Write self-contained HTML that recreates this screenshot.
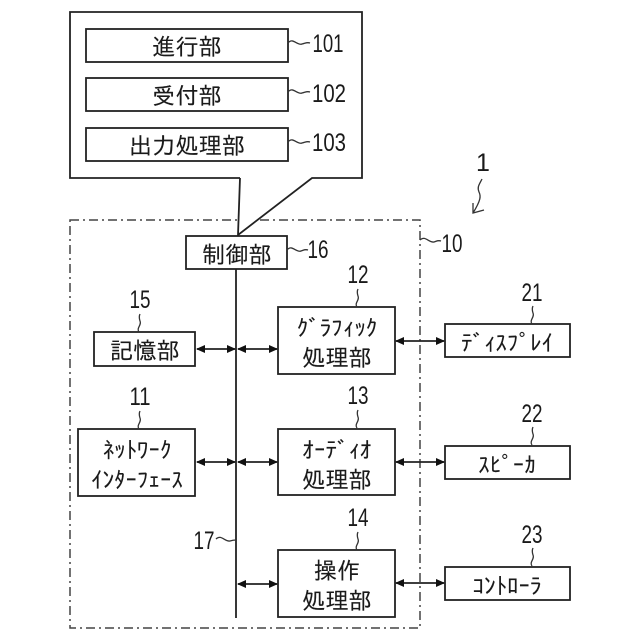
<!DOCTYPE html>
<html><head><meta charset="utf-8"><style>
html,body{margin:0;padding:0;background:#fff}
svg{display:block}
text{fill:#1a1a1a;text-anchor:middle;font-family:"IPAGothic","Noto Sans CJK JP","Liberation Sans",sans-serif;font-size:23.3px;stroke:#1a1a1a;stroke-width:.12}
text.n{font-family:"Liberation Sans",sans-serif;font-size:25px;stroke-width:0}
text.k{font-size:23px;stroke-width:.05}
.b{fill:#fff;stroke:#222;stroke-width:1.8}
.l{fill:none;stroke:#222;stroke-width:1.8}
.s{fill:none;stroke:#333;stroke-width:1.3}
</style></head><body>
<svg width="640" height="640" viewBox="0 0 640 640" xmlns="http://www.w3.org/2000/svg">
<defs>
<marker id="a" markerWidth="10" markerHeight="10" refX="8" refY="4" orient="auto-start-reverse" markerUnits="userSpaceOnUse"><path d="M0 0L9 4L0 8Z" fill="#111"/></marker>
</defs>
<rect width="640" height="640" fill="#fff"/>

<rect x="70" y="220" width="350" height="408" fill="none" stroke="#444" stroke-width="1.5" stroke-dasharray="9 4 2 4"/>

<path d="M240 178L70 178L70 12L362 12L362 178L312 178L238 235L240 178" fill="#fff" stroke="none"/>
<path class="l" d="M240 178H70V12H362V178H312L238 235L240 178"/>

<rect class="b" x="86" y="29" width="202" height="33"/>
<rect class="b" x="86" y="78" width="202" height="33"/>
<rect class="b" x="86" y="128" width="202" height="33"/>
<text x="187" y="55">進行部</text>
<text x="187" y="104">受付部</text>
<text x="187" y="154">出力処理部</text>
<path class="s" d="M288 43c5-6 9 3 14 1c4-1 5-2 8-1"/>
<path class="s" d="M288 92c5-6 9 3 14 1c4-1 5-2 8-1"/>
<path class="s" d="M288 142c5-6 9 3 14 1c4-1 5-2 8-1"/>
<text class="n" x="328" y="52" textLength="31" lengthAdjust="spacingAndGlyphs">101</text>
<text class="n" x="329" y="102" textLength="34" lengthAdjust="spacingAndGlyphs">102</text>
<text class="n" x="329" y="151" textLength="34" lengthAdjust="spacingAndGlyphs">103</text>

<rect class="b" x="186" y="236" width="101" height="33"/>
<text x="237" y="263">制御部</text>
<path class="s" d="M287 250c5-6 9 3 14 1c3-1 4-2 7-1"/>
<text class="n" x="318" y="258" textLength="21" lengthAdjust="spacingAndGlyphs">16</text>

<line class="l" x1="236" y1="269" x2="236" y2="618"/>

<rect class="b" x="94" y="332" width="101" height="34"/>
<text x="145" y="359">記憶部</text>
<rect class="b" x="78" y="429" width="117" height="67"/>
<text class="k" x="137" y="458">ﾈｯﾄﾜｰｸ</text>
<text class="k" x="137" y="488">ｲﾝﾀｰﾌｪｰｽ</text>

<rect class="b" x="278" y="307" width="117" height="67"/>
<text class="k" x="337" y="336">ｸﾞﾗﾌｨｯｸ</text>
<text x="337" y="366">処理部</text>
<rect class="b" x="278" y="429" width="117" height="66"/>
<text class="k" x="337" y="458">ｵｰﾃﾞｨｵ</text>
<text x="337" y="488">処理部</text>
<rect class="b" x="278" y="550" width="117" height="67"/>
<text x="337" y="579">操作</text>
<text x="337" y="609">処理部</text>

<rect class="b" x="445" y="324" width="125" height="33"/>
<text class="k" x="507" y="351">ﾃﾞｨｽﾌﾟﾚｲ</text>
<rect class="b" x="445" y="446" width="125" height="33"/>
<text class="k" x="507" y="473">ｽﾋﾟｰｶ</text>
<rect class="b" x="445" y="567" width="125" height="33"/>
<text class="k" x="507" y="594">ｺﾝﾄﾛｰﾗ</text>

<g class="l">
<line x1="197" y1="349" x2="235" y2="349" marker-start="url(#a)" marker-end="url(#a)"/>
<line x1="238" y1="349" x2="277" y2="349" marker-start="url(#a)" marker-end="url(#a)"/>
<line x1="197" y1="462" x2="235" y2="462" marker-start="url(#a)" marker-end="url(#a)"/>
<line x1="238" y1="462" x2="277" y2="462" marker-start="url(#a)" marker-end="url(#a)"/>
<line x1="238" y1="584" x2="277" y2="584" marker-start="url(#a)" marker-end="url(#a)"/>
<line x1="396" y1="341" x2="444" y2="341" marker-start="url(#a)" marker-end="url(#a)"/>
<line x1="396" y1="462" x2="444" y2="462" marker-start="url(#a)" marker-end="url(#a)"/>
<line x1="396" y1="583" x2="444" y2="583" marker-start="url(#a)" marker-end="url(#a)"/>
</g>

<text class="n" x="140" y="308" textLength="21" lengthAdjust="spacingAndGlyphs">15</text>
<path class="s" d="M139 332c-3-4 3-7 1-11c-1-3-1-5 0-7"/>
<text class="n" x="140" y="405" textLength="21" lengthAdjust="spacingAndGlyphs">11</text>
<path class="s" d="M139 429c-3-4 3-7 1-11c-1-3-1-5 0-7"/>
<text class="n" x="358" y="283" textLength="21" lengthAdjust="spacingAndGlyphs">12</text>
<path class="s" d="M357 307c-3-4 3-7 1-11c-1-3-1-5 0-7"/>
<text class="n" x="358" y="404" textLength="21" lengthAdjust="spacingAndGlyphs">13</text>
<path class="s" d="M357 428c-3-4 3-7 1-11c-1-3-1-5 0-7"/>
<text class="n" x="358" y="526" textLength="21" lengthAdjust="spacingAndGlyphs">14</text>
<path class="s" d="M357 550c-3-4 3-7 1-11c-1-3-1-5 0-7"/>
<text class="n" x="532" y="301" textLength="21" lengthAdjust="spacingAndGlyphs">21</text>
<path class="s" d="M532 324c-3-4 3-7 1-11c-1-3-1-5 0-7"/>
<text class="n" x="532" y="422" textLength="21" lengthAdjust="spacingAndGlyphs">22</text>
<path class="s" d="M532 445c-3-4 3-7 1-11c-1-3-1-5 0-7"/>
<text class="n" x="532" y="543" textLength="21" lengthAdjust="spacingAndGlyphs">23</text>
<path class="s" d="M532 566c-3-4 3-7 1-11c-1-3-1-5 0-7"/>

<path class="s" d="M420 240c5-5 9 3 14 2c3-1 4-2 7-1"/>
<text class="n" x="452" y="252" textLength="21" lengthAdjust="spacingAndGlyphs">10</text>
<text class="n" x="483" y="171">1</text>
<path class="s" d="M482 179c-3 6-5 8-3 13c2 4 2 8-6 21M473 203l0 10l11-3"/>

<text class="n" x="204" y="549" textLength="21" lengthAdjust="spacingAndGlyphs">17</text>
<path class="s" d="M216 539c5-5 9 3 14 2c3-1 4-1 6-1"/>
</svg>
</body></html>
